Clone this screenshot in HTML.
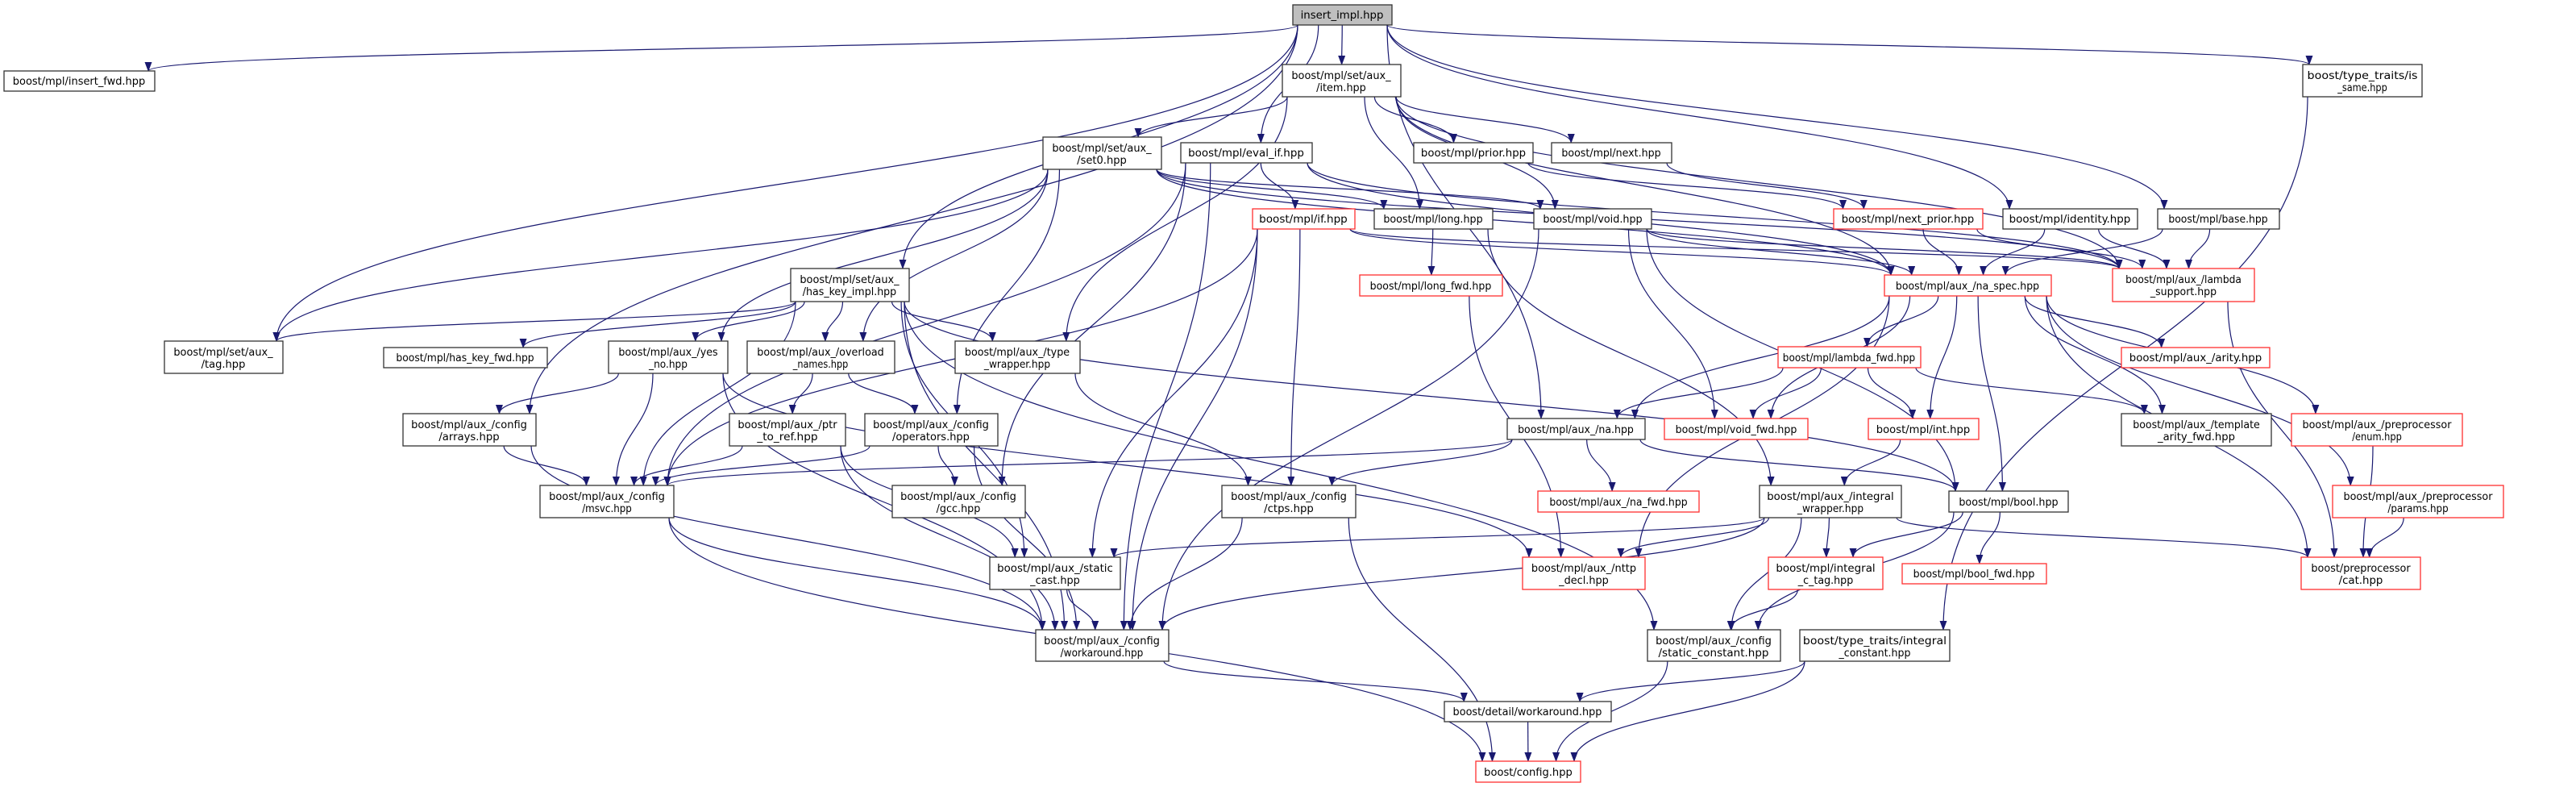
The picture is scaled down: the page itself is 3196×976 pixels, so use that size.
<!DOCTYPE html>
<html><head><meta charset="utf-8">
<style>
html,body{margin:0;padding:0;background:#fff;}
svg{display:block;}
text{font-family:"DejaVu Sans Condensed","DejaVu Sans","Liberation Sans",sans-serif;font-size:13.5px;fill:#000;text-anchor:middle;}
rect{stroke-width:1.3;}
.b{fill:#fff;stroke:#333;}
.r{fill:#fff;stroke:#ff3030;}
.g{fill:#bfbfbf;stroke:#333;}
path.e{fill:none;stroke:#191970;stroke-width:1.2;}
</style></head>
<body>
<svg id="s" width="3196" height="976" viewBox="0 0 3196 976" xmlns="http://www.w3.org/2000/svg">
<defs><marker id="a" markerUnits="userSpaceOnUse" markerWidth="12" markerHeight="9" refX="11" refY="4.5" orient="auto"><path d="M0,0 L12,4.5 L0,9 z" fill="#191970"/></marker></defs>
<g id="edges"></g>
<g id="nodes">
<g id="impl"><rect class="g" x="1604" y="6" width="123" height="25"/><text x="1665" y="23">insert_impl.hpp</text></g>
<g id="insfwd"><rect class="b" x="5" y="88" width="187" height="25"/><text x="98" y="105">boost/mpl/insert_fwd.hpp</text></g>
<g id="tag"><rect class="b" x="204" y="423" width="147" height="40"/><text x="277" y="441">boost/mpl/set/aux_</text><text x="277" y="456">/tag.hpp</text></g>
<g id="hkfwd"><rect class="b" x="476" y="431" width="203" height="25"/><text x="577" y="448">boost/mpl/has_key_fwd.hpp</text></g>
<g id="set0"><rect class="b" x="1294" y="170" width="147" height="40"/><text x="1367" y="188">boost/mpl/set/aux_</text><text x="1367" y="203">/set0.hpp</text></g>
<g id="evalif"><rect class="b" x="1465" y="177" width="163" height="25"/><text x="1546" y="194">boost/mpl/eval_if.hpp</text></g>
<g id="if"><rect class="r" x="1554" y="259" width="127" height="25"/><text x="1617" y="276">boost/mpl/if.hpp</text></g>
<g id="hki"><rect class="b" x="981" y="333" width="147" height="41"/><text x="1054" y="351">boost/mpl/set/aux_</text><text x="1054" y="366">/has_key_impl.hpp</text></g>
<g id="yesno"><rect class="b" x="755" y="423" width="148" height="40"/><text x="829" y="441">boost/mpl/aux_/yes</text><text x="829" y="456">_no.hpp</text></g>
<g id="ovl"><rect class="b" x="927" y="423" width="183" height="40"/><text x="1018" y="441">boost/mpl/aux_/overload</text><text x="1018" y="456">_names.hpp</text></g>
<g id="tw"><rect class="b" x="1185" y="423" width="155" height="40"/><text x="1262" y="441">boost/mpl/aux_/type</text><text x="1262" y="456">_wrapper.hpp</text></g>
<g id="item"><rect class="b" x="1591" y="80" width="147" height="40"/><text x="1664" y="98">boost/mpl/set/aux_</text><text x="1664" y="113">/item.hpp</text></g>
<g id="prior"><rect class="b" x="1754" y="177" width="148" height="25"/><text x="1828" y="194">boost/mpl/prior.hpp</text></g>
<g id="next"><rect class="b" x="1925" y="177" width="149" height="25"/><text x="1999" y="194">boost/mpl/next.hpp</text></g>
<g id="long"><rect class="b" x="1705" y="259" width="147" height="25"/><text x="1778" y="276">boost/mpl/long.hpp</text></g>
<g id="void"><rect class="b" x="1903" y="259" width="146" height="25"/><text x="1976" y="276">boost/mpl/void.hpp</text></g>
<g id="nextprior"><rect class="r" x="2275" y="259" width="185" height="25"/><text x="2367" y="276">boost/mpl/next_prior.hpp</text></g>
<g id="longfwd"><rect class="r" x="1687" y="341" width="177" height="26"/><text x="1775" y="359">boost/mpl/long_fwd.hpp</text></g>
<g id="naspec"><rect class="r" x="2338" y="341" width="207" height="26"/><text x="2441" y="359">boost/mpl/aux_/na_spec.hpp</text></g>
<g id="lfwd"><rect class="r" x="2206" y="430" width="177" height="26"/><text x="2294" y="448">boost/mpl/lambda_fwd.hpp</text></g>
<g id="issame"><rect class="b" x="2857" y="80" width="148" height="40"/><text x="2931" y="98">boost/type_traits/is</text><text x="2931" y="113">_same.hpp</text></g>
<g id="ident"><rect class="b" x="2485" y="259" width="167" height="25"/><text x="2568" y="276">boost/mpl/identity.hpp</text></g>
<g id="base"><rect class="b" x="2677" y="259" width="151" height="25"/><text x="2752" y="276">boost/mpl/base.hpp</text></g>
<g id="lsup"><rect class="r" x="2621" y="333" width="176" height="41"/><text x="2709" y="351">boost/mpl/aux_/lambda</text><text x="2709" y="366">_support.hpp</text></g>
<g id="arity"><rect class="r" x="2632" y="431" width="184" height="25"/><text x="2724" y="448">boost/mpl/aux_/arity.hpp</text></g>
<g id="arrays"><rect class="b" x="500" y="513" width="165" height="40"/><text x="582" y="531">boost/mpl/aux_/config</text><text x="582" y="546">/arrays.hpp</text></g>
<g id="msvc"><rect class="b" x="670" y="602" width="166" height="40"/><text x="753" y="620">boost/mpl/aux_/config</text><text x="753" y="635">/msvc.hpp</text></g>
<g id="ptr"><rect class="b" x="905" y="513" width="144" height="40"/><text x="977" y="531">boost/mpl/aux_/ptr</text><text x="977" y="546">_to_ref.hpp</text></g>
<g id="ops"><rect class="b" x="1073" y="513" width="165" height="40"/><text x="1155" y="531">boost/mpl/aux_/config</text><text x="1155" y="546">/operators.hpp</text></g>
<g id="gcc"><rect class="b" x="1107" y="602" width="165" height="40"/><text x="1189" y="620">boost/mpl/aux_/config</text><text x="1189" y="635">/gcc.hpp</text></g>
<g id="ctps"><rect class="b" x="1516" y="602" width="166" height="40"/><text x="1599" y="620">boost/mpl/aux_/config</text><text x="1599" y="635">/ctps.hpp</text></g>
<g id="scast"><rect class="b" x="1228" y="691" width="162" height="40"/><text x="1309" y="709">boost/mpl/aux_/static</text><text x="1309" y="724">_cast.hpp</text></g>
<g id="cwork"><rect class="b" x="1285" y="781" width="165" height="39"/><text x="1367" y="799">boost/mpl/aux_/config</text><text x="1367" y="814">/workaround.hpp</text></g>
<g id="na"><rect class="b" x="1870" y="519" width="171" height="26"/><text x="1955" y="537">boost/mpl/aux_/na.hpp</text></g>
<g id="voidfwd"><rect class="r" x="2065" y="519" width="178" height="26"/><text x="2154" y="537">boost/mpl/void_fwd.hpp</text></g>
<g id="int"><rect class="r" x="2318" y="519" width="137" height="26"/><text x="2386" y="537">boost/mpl/int.hpp</text></g>
<g id="nafwd"><rect class="r" x="1908" y="609" width="200" height="26"/><text x="2008" y="627">boost/mpl/aux_/na_fwd.hpp</text></g>
<g id="iw"><rect class="b" x="2183" y="602" width="176" height="40"/><text x="2271" y="620">boost/mpl/aux_/integral</text><text x="2271" y="635">_wrapper.hpp</text></g>
<g id="nttp"><rect class="r" x="1889" y="691" width="152" height="40"/><text x="1965" y="709">boost/mpl/aux_/nttp</text><text x="1965" y="724">_decl.hpp</text></g>
<g id="ictag"><rect class="r" x="2194" y="691" width="142" height="40"/><text x="2265" y="709">boost/mpl/integral</text><text x="2265" y="724">_c_tag.hpp</text></g>
<g id="boolfwd"><rect class="r" x="2360" y="699" width="179" height="25"/><text x="2449" y="716">boost/mpl/bool_fwd.hpp</text></g>
<g id="sconst"><rect class="b" x="2044" y="781" width="165" height="39"/><text x="2126" y="799">boost/mpl/aux_/config</text><text x="2126" y="814">/static_constant.hpp</text></g>
<g id="iconst"><rect class="b" x="2233" y="781" width="186" height="39"/><text x="2326" y="799">boost/type_traits/integral</text><text x="2326" y="814">_constant.hpp</text></g>
<g id="dwork"><rect class="b" x="1792" y="870" width="207" height="25"/><text x="1895" y="887">boost/detail/workaround.hpp</text></g>
<g id="config"><rect class="r" x="1831" y="944" width="130" height="26"/><text x="1896" y="962">boost/config.hpp</text></g>
<g id="taf"><rect class="b" x="2632" y="513" width="186" height="40"/><text x="2725" y="531">boost/mpl/aux_/template</text><text x="2725" y="546">_arity_fwd.hpp</text></g>
<g id="enum"><rect class="r" x="2843" y="513" width="212" height="40"/><text x="2949" y="531">boost/mpl/aux_/preprocessor</text><text x="2949" y="546">/enum.hpp</text></g>
<g id="bool"><rect class="b" x="2418" y="609" width="148" height="26"/><text x="2492" y="627">boost/mpl/bool.hpp</text></g>
<g id="params"><rect class="r" x="2894" y="602" width="212" height="40"/><text x="3000" y="620">boost/mpl/aux_/preprocessor</text><text x="3000" y="635">/params.hpp</text></g>
<g id="cat"><rect class="r" x="2855" y="691" width="148" height="40"/><text x="2929" y="709">boost/preprocessor</text><text x="2929" y="724">/cat.hpp</text></g>
</g>
</svg>
<script>
(function(){
var E={
impl:["insfwd","tag","arrays","hki","item","evalif","na","ident","base","issame"],
item:["set0","tw","long","void","prior","next","lsup","naspec"],
set0:["tag","yesno","ovl","ops","long","void","naspec","lsup"],
evalif:["if","msvc","gcc","cwork","naspec","lsup"],
hki:["tag","hkfwd","yesno","ovl","tw","scast","msvc","bool","sconst","cwork"],
"if":["ctps","cwork","scast","msvc","naspec","lsup"],
long:["longfwd","iw"],
"void":["voidfwd","naspec","lsup","cwork","bool"],
prior:["nextprior"],next:["nextprior"],
nextprior:["naspec","lsup"],
ident:["naspec","lsup"],base:["naspec","lsup"],
naspec:["lfwd","na","arity","taf","enum","params","int","bool","voidfwd","nttp","cat"],
lfwd:["na","voidfwd","int","taf"],
yesno:["arrays","msvc","cwork","nttp"],
ovl:["ptr","ops"],tw:["ctps"],
arrays:["msvc","cwork"],ptr:["msvc","scast","cwork"],ops:["msvc","gcc","cwork"],
na:["msvc","ctps","nafwd","bool"],
"int":["iw"],longfwd:["nttp"],
iw:["scast","nttp","ictag","sconst","cwork","cat"],
bool:["boolfwd","ictag","sconst"],
ictag:["sconst"],scast:["cwork"],ctps:["cwork","config"],msvc:["cwork","config"],
cwork:["dwork"],dwork:["config"],sconst:["config"],iconst:["dwork","config"],
issame:["iconst"],"enum":["cat"],params:["cat"],lsup:["cat"]
};
function R(id){var r=document.querySelector('#'+id+' rect');return{x:+r.getAttribute('x'),y:+r.getAttribute('y'),w:+r.getAttribute('width'),h:+r.getAttribute('height')};}
function cl(v,a,b){return Math.max(a,Math.min(b,v));}
var g=document.getElementById('edges'),out='';
for(var s in E){var a=R(s);E[s].forEach(function(t){var b=R(t);
var acx=a.x+a.w/2,bcx=b.x+b.w/2,d;
if(b.y>=a.y+a.h+6){
var sx=acx+cl((bcx-acx)*0.25,-a.w/2+6,a.w/2-6),sy=a.y+a.h;
var tx=bcx+cl((acx-bcx)*0.15,-b.w/2+8,b.w/2-8),ty=b.y;
var k=(ty-sy)*0.5;
d='M'+sx+','+sy+' C'+sx+','+(sy+k)+' '+tx+','+(ty-k)+' '+tx+','+ty;
}else{
var sy2=a.y+a.h/2,ty2=b.y+b.h/2;
var sx2,tx2;
if(bcx<acx){sx2=a.x;tx2=b.x+b.w;}else{sx2=a.x+a.w;tx2=b.x;}
if(b.y+b.h<a.y){ty2=b.y+b.h/2;}
var m=(sx2+tx2)/2;
d='M'+sx2+','+sy2+' C'+m+','+sy2+' '+m+','+ty2+' '+tx2+','+ty2;
}
out+='<path class="e" d="'+d+'" marker-end="url(#a)"/>';});}
g.innerHTML=out;
document.querySelectorAll('#nodes text').forEach(function(t){
var n=t.textContent.length;t.setAttribute('textLength',(n*6.85).toFixed(1));t.setAttribute('lengthAdjust','spacingAndGlyphs');});
})();
</script>
</body></html>
